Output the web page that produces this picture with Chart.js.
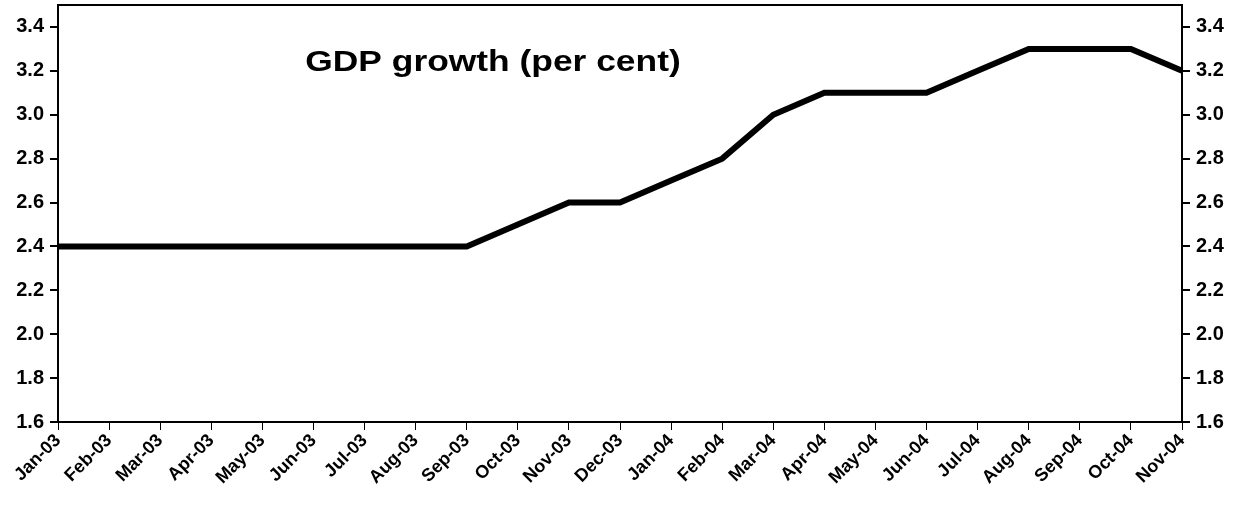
<!DOCTYPE html>
<html>
<head>
<meta charset="utf-8">
<script src="https://cdn.jsdelivr.net/npm/chart.js@4/dist/chart.umd.min.js"></script>
<style>
  html, body { margin: 0; padding: 0; background: #fff; }
  #wrap { width: 1241px; height: 506px; position: relative; }
</style>
</head>
<body>
<div id="wrap"><canvas id="gdp"></canvas></div>
<script>
// --- data ---
var months = ['Jan-03', 'Feb-03', 'Mar-03', 'Apr-03', 'May-03', 'Jun-03', 'Jul-03', 'Aug-03',
              'Sep-03', 'Oct-03', 'Nov-03', 'Dec-03', 'Jan-04', 'Feb-04', 'Mar-04', 'Apr-04',
              'May-04', 'Jun-04', 'Jul-04', 'Aug-04', 'Sep-04', 'Oct-04', 'Nov-04'];
var gdpGrowth = [2.4, 2.4, 2.4, 2.4, 2.4, 2.4, 2.4, 2.4,
                 2.4, 2.5, 2.6, 2.6, 2.7, 2.8, 3.0, 3.1,
                 3.1, 3.1, 3.2, 3.3, 3.3, 3.3, 3.2];
var yTicks = [1.6, 1.8, 2.0, 2.2, 2.4, 2.6, 2.8, 3.0, 3.2, 3.4];
var chartTitle = 'GDP growth (per cent)';

var FONT = 'Arial, "Liberation Sans", sans-serif';

// frame round the plot area and the title drawn inside it
var framePlugin = {
    id: 'frame',
    afterDraw: function (chart) {
        var a = chart.chartArea, ctx = chart.ctx;
        ctx.save();
        ctx.strokeStyle = '#000';
        ctx.lineWidth = 2;
        ctx.strokeRect(a.left, a.top, a.right - a.left, a.bottom - a.top);
        ctx.fillStyle = '#000';
        ctx.font = 'bold 29px ' + FONT;
        ctx.textAlign = 'center';
        ctx.textBaseline = 'alphabetic';
        // the original title is a little wider than plain Arial
        ctx.translate(a.left + 435, a.top + 66);
        ctx.scale(1.22, 1);
        ctx.fillText(chartTitle, 0, 0);
        ctx.restore();
    }
};

function yAxis(pos) {
    return {
        type: 'linear',
        position: pos,
        min: 1.6,
        max: 3.5,
        afterBuildTicks: function (scale) {
            scale.ticks = yTicks.map(function (v) { return { value: v }; });
        },
        afterFit: function (scale) {
            scale.width = pos === 'left' ? 58 : 59;
            scale.paddingTop = 0;
            scale.paddingBottom = 0;
        },
        border: { display: true, color: '#000', width: 2 },
        grid: { drawOnChartArea: false, drawTicks: true, tickLength: 8, color: '#000', lineWidth: 2 },
        ticks: {
            color: '#000',
            padding: 6,
            font: { family: FONT, size: 20, weight: 700 },
            callback: function (v) { return v.toFixed(1); }
        }
    };
}

new Chart(document.getElementById('gdp'), {
    type: 'line',
    data: {
        labels: months,
        datasets: [{
            data: gdpGrowth,
            borderColor: '#000',
            borderWidth: 6,
            pointRadius: 0,
            tension: 0,
            borderJoinStyle: 'miter',
            yAxisID: 'y'
        }]
    },
    options: {
        responsive: true,
        maintainAspectRatio: false,
        animation: false,
        layout: { padding: { top: 5, left: 0, right: 0, bottom: 0 } },
        plugins: { legend: { display: false }, tooltip: { enabled: false }, title: { display: false } },
        scales: {
            x: {
                offset: false,
                afterFit: function (scale) {
                    scale.height = 84;
                    scale.paddingLeft = 0;
                    scale.paddingRight = 0;
                },
                border: { display: true, color: '#000', width: 2 },
                grid: { drawOnChartArea: false, drawTicks: true, tickLength: 8, color: '#000', lineWidth: 1 },
                ticks: {
                    color: '#000',
                    autoSkip: false,
                    maxRotation: 45,
                    minRotation: 45,
                    padding: 0,
                    font: { family: FONT, size: 18, weight: 700 }
                }
            },
            y: yAxis('left'),
            y2: yAxis('right')
        }
    },
    plugins: [framePlugin]
});
</script>
</body>
</html>
